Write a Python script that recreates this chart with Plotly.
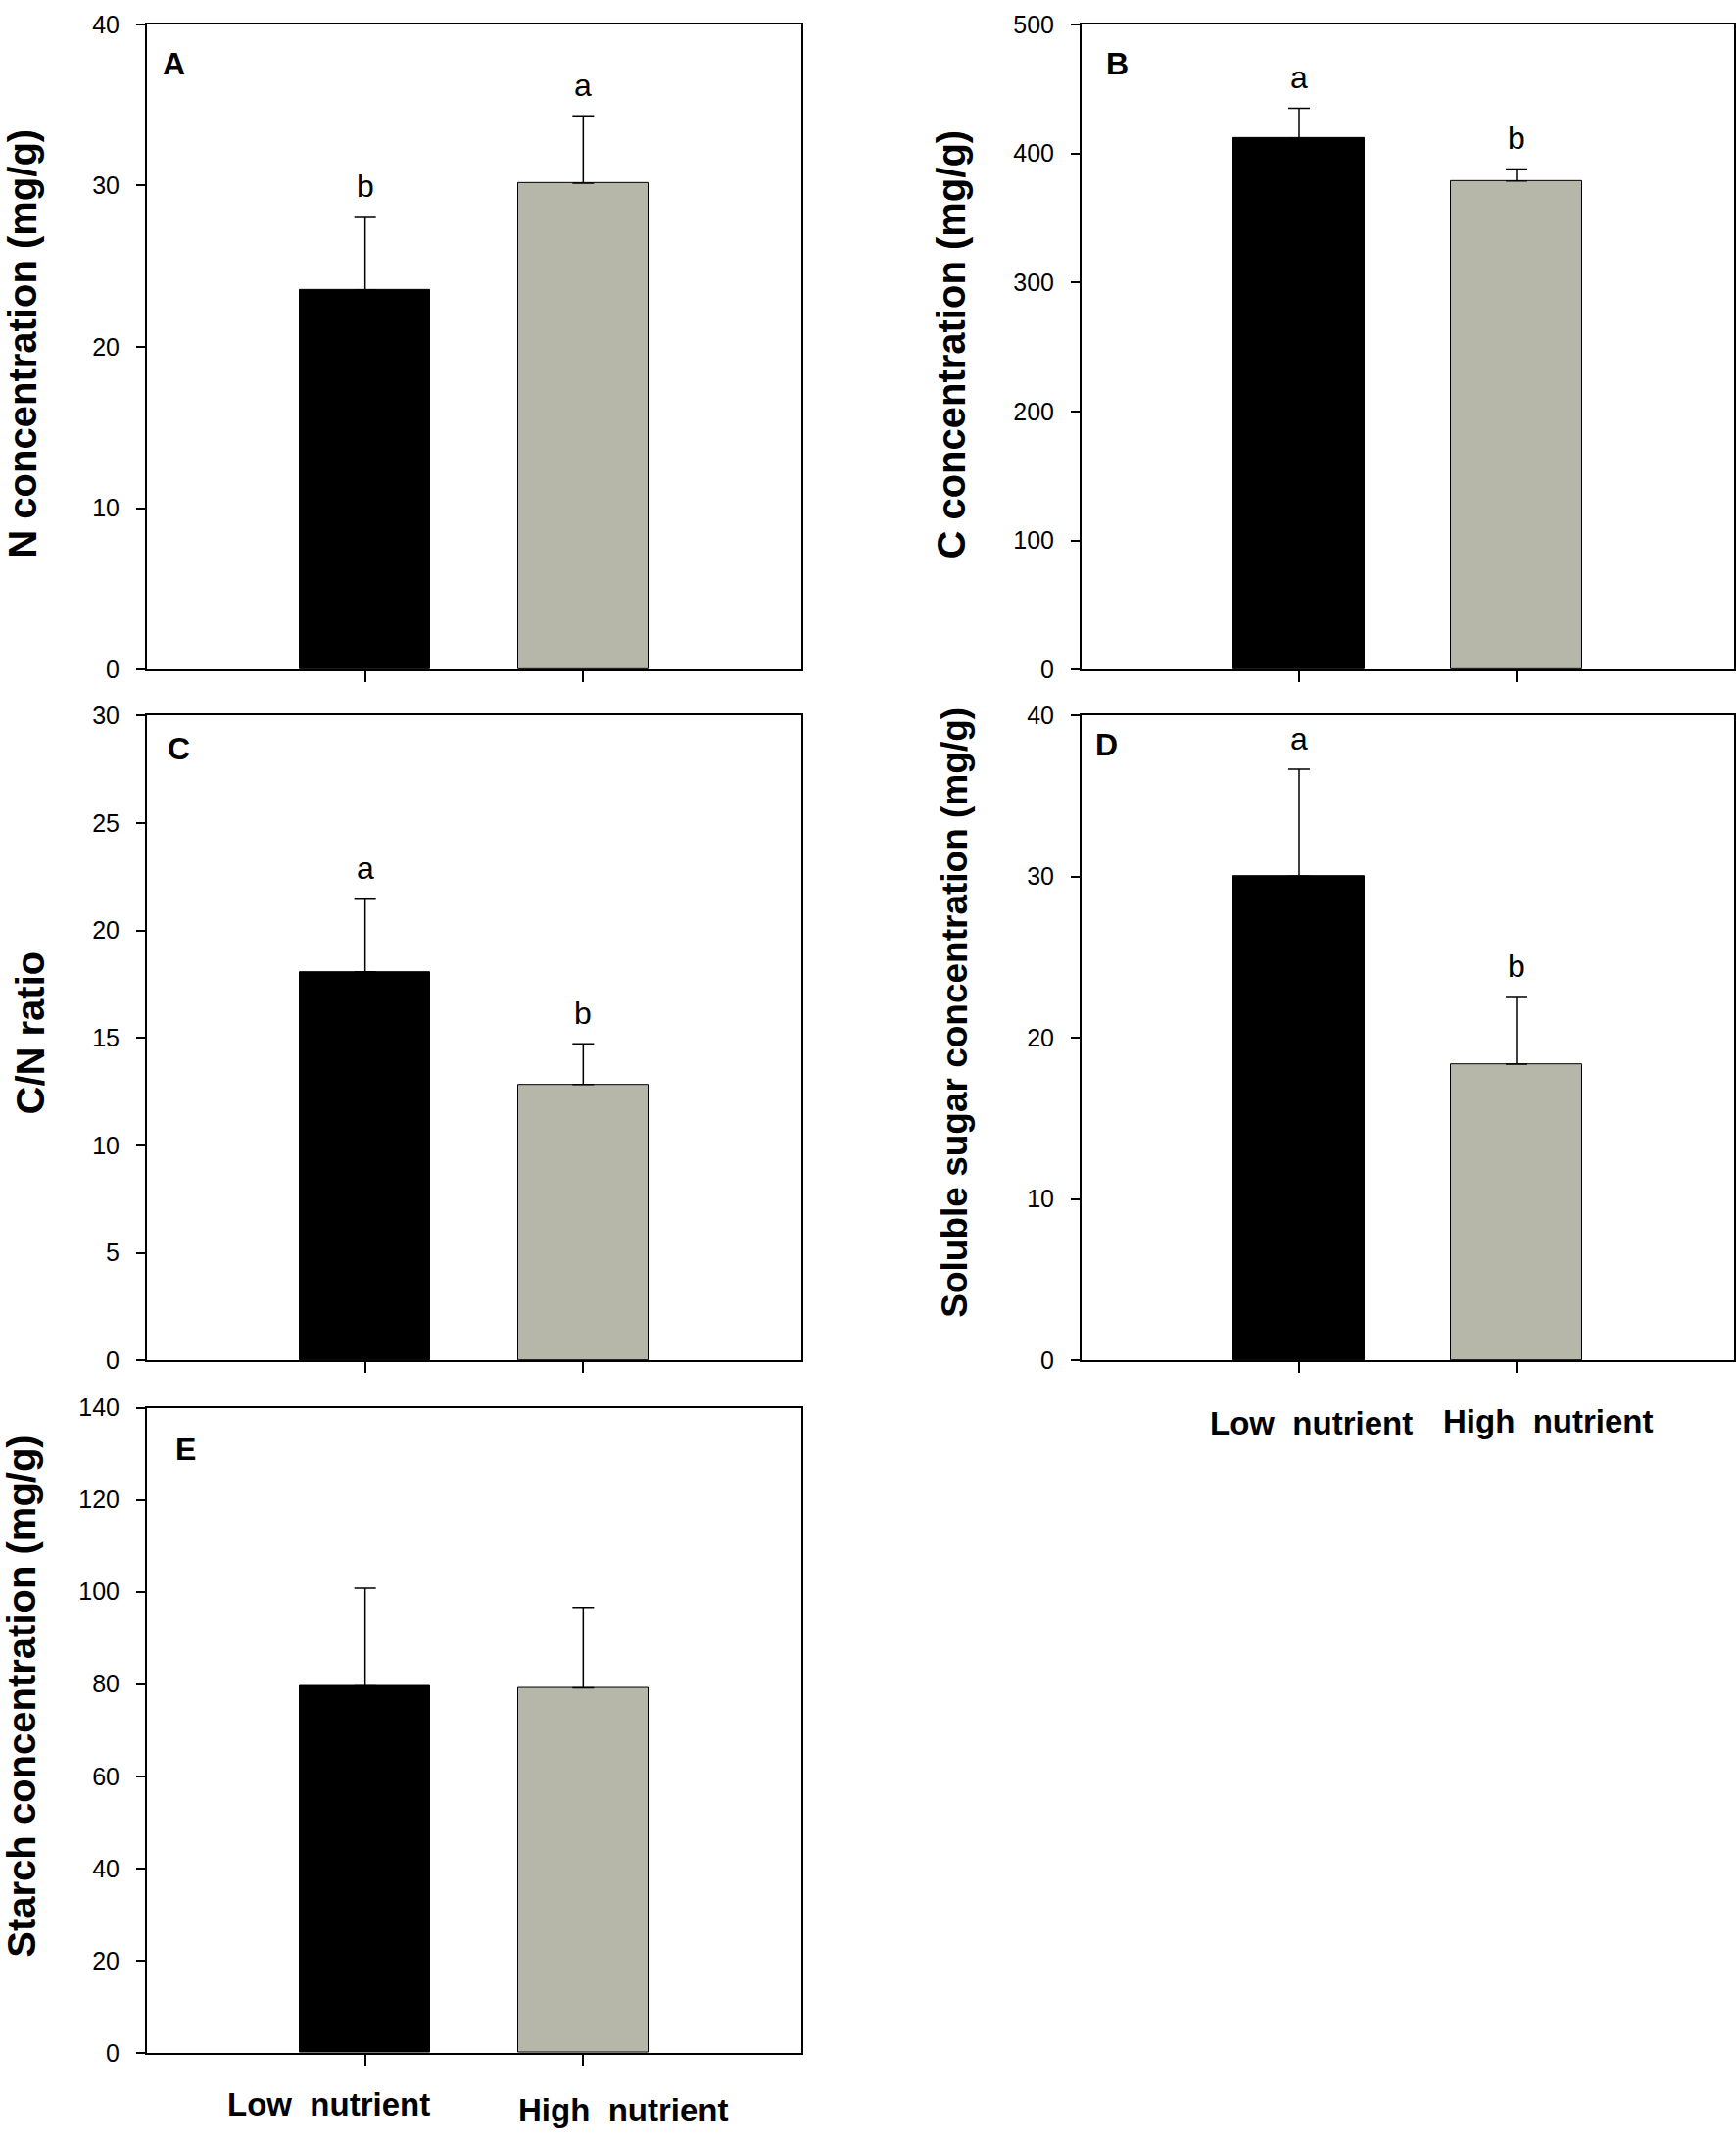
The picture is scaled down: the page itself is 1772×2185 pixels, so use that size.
import plotly.graph_objects as go

# treatment groups
groups = ['Low nutrient', 'High nutrient']

# A: N concentration (mg/g)
n_conc = [23.55, 30.15]
n_err = [4.54, 4.18]
n_letters = ['b', 'a']

# B: C concentration (mg/g)
c_conc = [411.6, 378.6]
c_err = [23.4, 9.3]
c_letters = ['a', 'b']

# C: C/N ratio
cn_ratio = [18.07, 12.83]
cn_err = [3.42, 1.89]
cn_letters = ['a', 'b']

# D: soluble sugar (mg/g)
sugar_conc = [30.03, 18.37]
sugar_err = [6.64, 4.19]
sugar_letters = ['a', 'b']

# E: starch (mg/g)
starch_conc = [79.6, 79.2]
starch_err = [21.2, 17.4]
starch_letters = ['', '']

bar_colors = ['#000000', '#b7b7a9']
FONT = 'Liberation Sans, Arial, sans-serif'
W, H = 1772, 2185

# panel setup: (values, errors, letters, y max, dtick, y title, panel letter, axis id)
panels = [
    (n_conc, n_err, n_letters, 40, 10, 'N concentration (mg/g)', 'A', ''),
    (c_conc, c_err, c_letters, 500, 100, 'C concentration (mg/g)', 'B', '2'),
    (cn_ratio, cn_err, cn_letters, 30, 5, 'C/N ratio', 'C', '3'),
    (sugar_conc, sugar_err, sugar_letters, 40, 10, 'Soluble sugar concentration (mg/g)', 'D', '4'),
    (starch_conc, starch_err, starch_letters, 140, 20, 'Starch concentration (mg/g)', 'E', '5'),
]

# pixel layout of each panel: left, right, top, bottom
boxes = {
    '': (150, 818, 11, 678),
    '2': (1104, 1770, 11, 678),
    '3': (150, 818, 725.5, 1392),
    '4': (1104, 1770, 725.5, 1392),
    '5': (150, 818, 1441, 2108),
}
# panel letter offsets (px from top-left corner)
letter_pos = {'': (27, 40), '2': (36, 40), '3': (32, 34), '4': (25, 30), '5': (39, 42)}
# y title centre (px) and font size
ytitle_pos = {'': (23, 341, 40), '2': (971, 342, 40), '3': (31, 1054, 40),
              '4': (975, 1033, 37), '5': (22, 1740, 40)}

fig = go.Figure()
annotations = []

for vals, errs, letters, ymax, dtick, ytitle, plabel, ax in panels:
    xa, ya = 'x' + ax, 'y' + ax
    fig.add_trace(go.Bar(
        x=groups, y=vals,
        xaxis=xa, yaxis=ya,
        width=0.6,
        marker=dict(color=bar_colors, line=dict(color='black', width=1)),
        error_y=dict(type='data', symmetric=False, array=errs, arrayminus=[0, 0],
                     color='black', thickness=1.5, width=11),
        showlegend=False,
    ))
    l, r, t, b = boxes[ax]
    axis_common = dict(showgrid=False, zeroline=False, showline=True, linecolor='black',
                       linewidth=2, mirror=True, ticks='outside', tickcolor='black',
                       tickwidth=1.5)
    fig.update_layout(**{
        'xaxis' + ax: dict(axis_common, domain=[l / W, r / W], anchor=ya,
                           type='category', range=[-1, 2], ticklen=11,
                           showticklabels=False, fixedrange=True),
        'yaxis' + ax: dict(axis_common, domain=[1 - b / H, 1 - t / H], anchor=xa,
                           range=[0, ymax], dtick=dtick, tick0=0, ticklen=9,
                           ticklabelstandoff=12,
                           tickfont=dict(family=FONT, size=25, color='black')),
    })

    # significance letters above error bars
    for g, v, e, s in zip(groups, vals, errs, letters):
        if s:
            annotations.append(dict(x=g, y=v + e, xref=xa, yref=ya, text=s,
                                    showarrow=False, yanchor='bottom', yshift=11,
                                    font=dict(family=FONT, size=32, color='black')))

    # panel letter
    dx, dy = letter_pos[ax]
    annotations.append(dict(x=0, y=1, xref=xa + ' domain', yref=ya + ' domain',
                            text='<b>%s</b>' % plabel, showarrow=False,
                            xanchor='center', yanchor='middle', xshift=dx, yshift=-dy,
                            font=dict(family=FONT, size=32, color='black')))

    # y axis title
    tx, ty, tsize = ytitle_pos[ax]
    annotations.append(dict(x=tx / W, y=1 - ty / H, xref='paper', yref='paper',
                            text='<b>%s</b>' % ytitle, textangle=-90, showarrow=False,
                            xanchor='center', yanchor='middle',
                            font=dict(family=FONT, size=tsize, color='black')))

# group labels under panels D and E
xlabels = [
    ('4', groups[0], 12, -64), ('4', groups[1], 32, -62),
    ('5', groups[0], -37, -53), ('5', groups[1], 41, -59),
]
for ax, g, xs, ys in xlabels:
    annotations.append(dict(x=g, y=0, xref='x' + ax, yref='y' + ax + ' domain',
                            text='<b>%s</b>' % g.replace(' ', '&nbsp; '),
                            showarrow=False, xanchor='center', yanchor='middle',
                            xshift=xs, yshift=ys,
                            font=dict(family=FONT, size=33, color='black')))

fig.update_layout(
    width=W, height=H,
    margin=dict(l=0, r=0, t=0, b=0),
    paper_bgcolor='white', plot_bgcolor='white',
    bargap=0,
    annotations=annotations,
    font=dict(family=FONT, color='black'),
)

# the page body has a default 8px margin; drop it so the figure sits at (0, 0)
fig.write_html("out.html", config={'displayModeBar': False},
               post_script="document.body.style.margin='0';")
